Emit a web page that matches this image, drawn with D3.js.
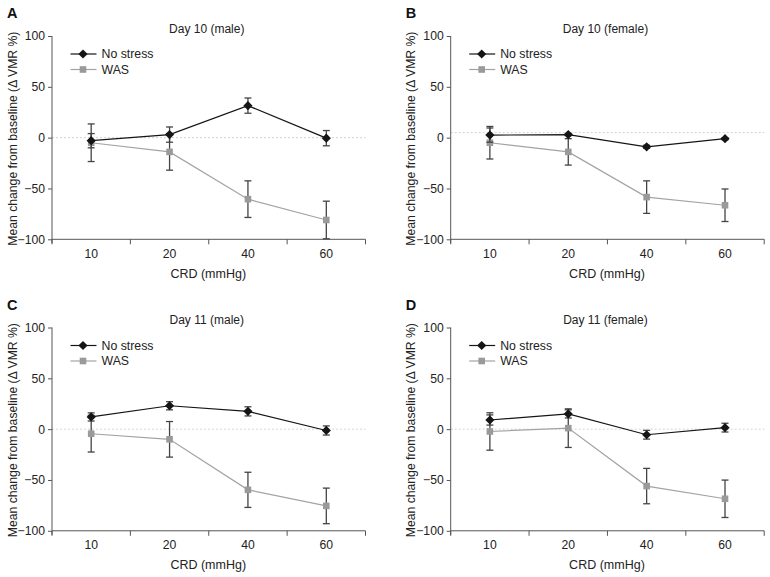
<!DOCTYPE html>
<html>
<head>
<meta charset="utf-8">
<script src="https://cdn.jsdelivr.net/npm/d3@7/dist/d3.min.js"></script>
<style>
  body { margin: 0; background: #fff; }
  svg { display: block; font-family: "Liberation Sans", Arial, sans-serif; }
</style>
</head>
<body>
<svg id="chart" width="770" height="577"></svg>
<script>
// ---- data ----
const categories = ["10", "20", "40", "60"];
const yTicks = [-100, -50, 0, 50, 100];
const seriesNames = ["No stress", "WAS"];
const panelLetters = ["A", "B", "C", "D"];
const panelTitles = ["Day 10 (male)", "Day 10 (female)", "Day 11 (male)", "Day 11 (female)"];
const refLineValues = [0, 5, 0, 0];

const noStressA = [-3, 3, 31.5, -0.5];
const noStressErrA = [7, 7.5, 7.5, 7.5];
const wasA = [-5, -14, -60.5, -81];
const wasErrA = [18.5, 18, 18, 18.5];

const noStressB = [2.5, 3, -9, -1];
const noStressErrB = [7, 1, 1.5, 1];
const wasB = [-5, -14, -58.5, -66.5];
const wasErrB = [16, 13, 16, 16];

const noStressC = [12, 23, 17.5, -1.3];
const noStressErrC = [4, 4, 4.5, 4.5];
const wasC = [-4.5, -10, -59.7, -75.5];
const wasErrC = [18, 17.5, 17.3, 17.5];

const noStressD = [9, 15, -5.5, 1.5];
const noStressErrD = [5, 4, 4.3, 4.3];
const wasD = [-2.3, 1, -56, -68.5];
const wasErrD = [18.4, 19, 17.4, 18.4];

const panelData = [
  { ns: noStressA, nsErr: noStressErrA, was: wasA, wasErr: wasErrA },
  { ns: noStressB, nsErr: noStressErrB, was: wasB, wasErr: wasErrB },
  { ns: noStressC, nsErr: noStressErrC, was: wasC, wasErr: wasErrC },
  { ns: noStressD, nsErr: noStressErrD, was: wasD, wasErr: wasErrD }
];

// ---- layout ----
const svg = d3.select("#chart");
const plotW = 313.5;
const plotH = 203.3;
const origins = [
  { x: 52, y: 36 },
  { x: 450.7, y: 36 },
  { x: 52, y: 327.5 },
  { x: 450.7, y: 327.5 }
];

const colNS = "#151515";
const colWAS = "#a3a3a3";
const colErr = "#444";
const colAxis = "#555";
const colText = "#222";
const FONT = "'Liberation Sans', Arial, sans-serif";

panelData.forEach((pd, i) => {
  const o = origins[i];
  const g = svg.append("g").attr("transform", `translate(${o.x},${o.y})`);
  const x = d3.scaleBand().domain(categories).range([0, plotW]).paddingInner(0).paddingOuter(0);
  const y = d3.scaleLinear().domain([-100, 100]).range([plotH, 0]);
  const cx = d => x(d) + x.bandwidth() / 2;

  // panel letter
  svg.append("text")
    .attr("x", o.x - 45).attr("y", o.y - 18)
    .attr("font-size", 14.5).attr("font-weight", "bold").attr("fill", "#111")
    .text(panelLetters[i]);

  // title
  g.append("text")
    .attr("x", plotW / 2 - 2).attr("y", -3.5)
    .attr("text-anchor", "middle").attr("font-size", 12).attr("fill", colText)
    .text(panelTitles[i]);

  // reference dotted line
  g.append("line")
    .attr("x1", 0).attr("x2", plotW)
    .attr("y1", y(refLineValues[i])).attr("y2", y(refLineValues[i]))
    .attr("stroke", "#c8c8c8").attr("stroke-width", 0.8).attr("stroke-dasharray", "2,2");

  // y axis
  const yAxis = g.append("g")
    .call(d3.axisLeft(y).tickValues(yTicks).tickSize(4).tickPadding(3).tickFormat(d => d < 0 ? "\u2212" + Math.abs(d) : d));
  yAxis.select(".domain").attr("stroke", colAxis).attr("d", `M0,0V${plotH + 4}`);
  yAxis.selectAll(".tick line").attr("stroke", colAxis);
  yAxis.selectAll(".tick text").attr("font-size", 12.2).attr("fill", colText).attr("font-family", FONT);

  // x axis (labels at centers)
  const xAxis = g.append("g").attr("transform", `translate(0,${plotH})`)
    .call(d3.axisBottom(x).tickSize(0).tickPadding(10));
  xAxis.select(".domain").attr("stroke", colAxis).attr("d", `M0,0H${plotW}`);
  xAxis.selectAll(".tick text").attr("font-size", 12.2).attr("fill", colText).attr("font-family", FONT);
  // boundary ticks
  const bounds = categories.map(c => x(c)).concat([plotW]);
  xAxis.selectAll(".btick").data(bounds).enter().append("line")
    .attr("class", "btick")
    .attr("x1", d => d).attr("x2", d => d).attr("y1", 0).attr("y2", 5)
    .attr("stroke", colAxis);

  // axis labels
  g.append("text")
    .attr("x", plotW / 2 - 0.5).attr("y", plotH + 38.5)
    .attr("text-anchor", "middle").attr("font-size", 12.5).attr("fill", colText)
    .text("CRD (mmHg)");
  g.append("text")
    .attr("transform", `translate(-35.5,${plotH / 2 + 1}) rotate(-90)`)
    .attr("text-anchor", "middle").attr("font-size", 12.2).attr("fill", colText)
    .text("Mean change from baseline (\u0394 VMR %)");

  const diamond = "M0,-4.6L4.6,0L0,4.6L-4.6,0Z";
  const line = d3.line().x((d, j) => cx(categories[j])).y(d => y(d));

  function drawSeries(vals, errs, color, isNS) {
    const eb = g.append("g");
    vals.forEach((v, j) => {
      const xx = cx(categories[j]);
      eb.append("line").attr("x1", xx).attr("x2", xx)
        .attr("y1", y(v + errs[j])).attr("y2", y(v - errs[j]))
        .attr("stroke", colErr).attr("stroke-width", 1.3);
      [v + errs[j], v - errs[j]].forEach(e => {
        eb.append("line").attr("x1", xx - 3.5).attr("x2", xx + 3.5)
          .attr("y1", y(e)).attr("y2", y(e))
          .attr("stroke", colErr).attr("stroke-width", 1.3);
      });
    });
    g.append("path").datum(vals).attr("d", line)
      .attr("fill", "none").attr("stroke", color).attr("stroke-width", 1.2);
    vals.forEach((v, j) => {
      const xx = cx(categories[j]);
      if (isNS) {
        g.append("path").attr("d", diamond).attr("transform", `translate(${xx},${y(v)})`).attr("fill", color);
      } else {
        g.append("rect").attr("x", xx - 3.3).attr("y", y(v) - 3.3).attr("width", 6.6).attr("height", 6.6).attr("fill", "#9a9a9a");
      }
    });
  }
  drawSeries(pd.was, pd.wasErr, colWAS, false);
  drawSeries(pd.ns, pd.nsErr, colNS, true);

  // legend
  const lg = g.append("g").attr("transform", "translate(18.5,18)");
  seriesNames.forEach((name, k) => {
    const ly = k * 15.5;
    const c = k === 0 ? colNS : colWAS;
    lg.append("line").attr("x1", 0).attr("x2", 26).attr("y1", ly).attr("y2", ly)
      .attr("stroke", c).attr("stroke-width", 1.2);
    if (k === 0) {
      lg.append("path").attr("d", diamond).attr("transform", `translate(12.5,${ly})`).attr("fill", c);
    } else {
      lg.append("rect").attr("x", 12.5 - 3.3).attr("y", ly - 3.3).attr("width", 6.6).attr("height", 6.6).attr("fill", "#9a9a9a");
    }
    lg.append("text").attr("x", 31).attr("y", ly + 4.4)
      .attr("font-size", 12.3).attr("fill", colText).text(name);
  });
});
</script>
</body>
</html>
